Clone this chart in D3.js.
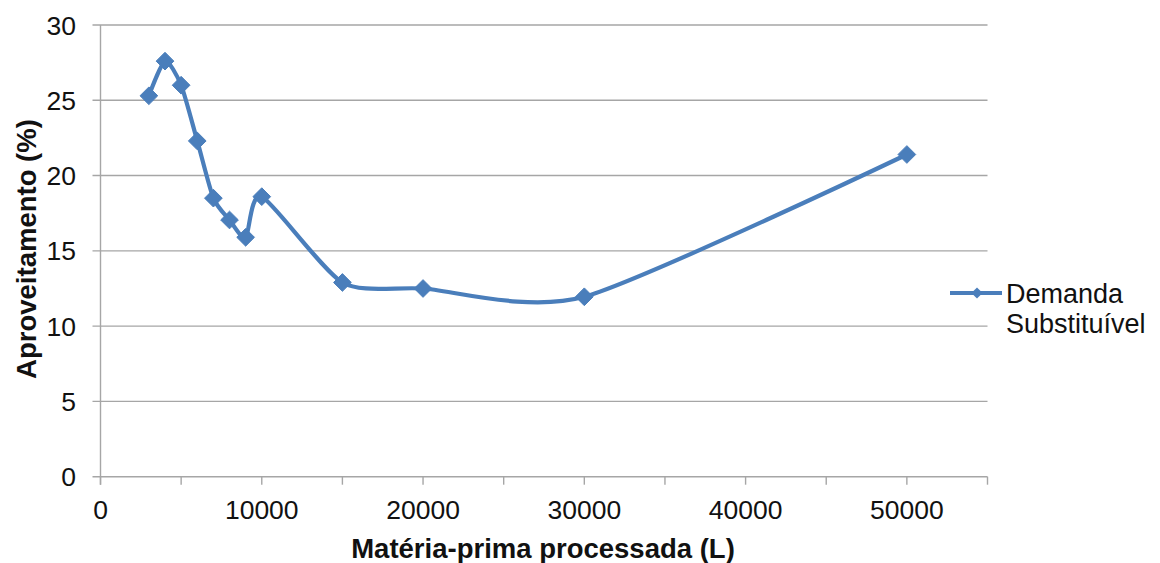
<!DOCTYPE html>
<html>
<head>
<meta charset="utf-8">
<script src="https://cdn.jsdelivr.net/npm/d3@7"></script>
<style>
  html, body { margin: 0; padding: 0; background: #fff; }
  svg { display: block; font-family: "Liberation Sans", Arial, sans-serif; }
</style>
</head>
<body>
<svg id="chart" width="1160" height="563"></svg>
<script>
// Processed raw material (L) and usable share (%)
const volumes = [3000, 4000, 5000, 6000, 7000, 8000, 9000, 10000, 15000, 20000, 30000, 50000];
const aproveitamento = [25.3, 27.6, 26.0, 22.3, 18.5, 17.05, 15.9, 18.6, 12.9, 12.5, 11.95, 21.4];
const xTicks = [0, 10000, 20000, 30000, 40000, 50000];
const xMinorTicks = [0, 5000, 10000, 15000, 20000, 25000, 30000, 35000, 40000, 45000, 50000, 55000];
const yTicks = [0, 5, 10, 15, 20, 25, 30];
const seriesName = ["Demanda", "Substituível"];

const svg = d3.select("#chart");
const plotLeft = 100.5, plotRight = 987.5, plotTop = 25, plotBottom = 476.7;
const blue = "#4A7EBB";
const grid = "#A6A6A6";
const ink = "#111";

const x = d3.scaleLinear().domain([0, 55000]).range([plotLeft, plotRight]);
const y = d3.scaleLinear().domain([0, 30]).range([plotBottom, plotTop]);

// horizontal gridlines
svg.append("g").selectAll("line").data(yTicks).join("line")
  .attr("x1", plotLeft - 8).attr("x2", plotRight)
  .attr("y1", d => y(d)).attr("y2", d => y(d))
  .attr("stroke", grid).attr("stroke-width", 1.4);

// y axis line
svg.append("line").attr("x1", plotLeft).attr("x2", plotLeft)
  .attr("y1", plotTop).attr("y2", plotBottom + 8)
  .attr("stroke", grid).attr("stroke-width", 1.4);

// x axis ticks
svg.append("g").selectAll("line").data(xMinorTicks).join("line")
  .attr("x1", d => x(d)).attr("x2", d => x(d))
  .attr("y1", plotBottom).attr("y2", plotBottom + 8)
  .attr("stroke", grid).attr("stroke-width", 1.4);

// y tick labels
svg.append("g").selectAll("text").data(yTicks).join("text")
  .attr("x", 76).attr("y", d => y(d) + 9.5)
  .attr("text-anchor", "end").attr("font-size", 26.5).attr("fill", ink)
  .text(d => d);

// x tick labels
svg.append("g").selectAll("text").data(xTicks).join("text")
  .attr("x", d => x(d)).attr("y", 519)
  .attr("text-anchor", "middle").attr("font-size", 26.5).attr("fill", ink)
  .text(d => d);

// axis titles
svg.append("text")
  .attr("x", 543).attr("y", 558)
  .attr("text-anchor", "middle").attr("font-size", 27.5).attr("font-weight", "bold").attr("fill", ink)
  .text("Matéria-prima processada (L)");

svg.append("text")
  .attr("transform", "translate(36,249) rotate(-90)")
  .attr("text-anchor", "middle").attr("font-size", 27.5).attr("font-weight", "bold").attr("fill", ink)
  .text("Aproveitamento (%)");

// smoothed series line
const pts = volumes.map((v, i) => [v, aproveitamento[i]]);
const line = d3.line()
  .x(d => x(d[0])).y(d => y(d[1]))
  .curve(d3.curveCardinal.tension(0.3));

svg.append("path").datum(pts)
  .attr("d", line)
  .attr("fill", "none").attr("stroke", blue).attr("stroke-width", 4.2)
  .attr("stroke-linejoin", "round");

// diamond markers
const diamond = d3.symbol().type(d3.symbolDiamond2).size(200);
svg.append("g").selectAll("path").data(pts).join("path")
  .attr("transform", d => `translate(${x(d[0])},${y(d[1])})`)
  .attr("d", diamond)
  .attr("fill", blue).attr("stroke", blue).attr("stroke-width", 1);

// legend
const lg = svg.append("g");
lg.append("line").attr("x1", 950).attr("x2", 1002).attr("y1", 293).attr("y2", 293)
  .attr("stroke", blue).attr("stroke-width", 4.2);
lg.append("path").attr("transform", "translate(977,293)")
  .attr("d", d3.symbol().type(d3.symbolDiamond2).size(80))
  .attr("fill", blue);
lg.selectAll("text").data(seriesName).join("text")
  .attr("x", 1006).attr("y", (d, i) => 303 + i * 30)
  .attr("font-size", 27).attr("fill", ink)
  .text(d => d);
</script>
</body>
</html>
